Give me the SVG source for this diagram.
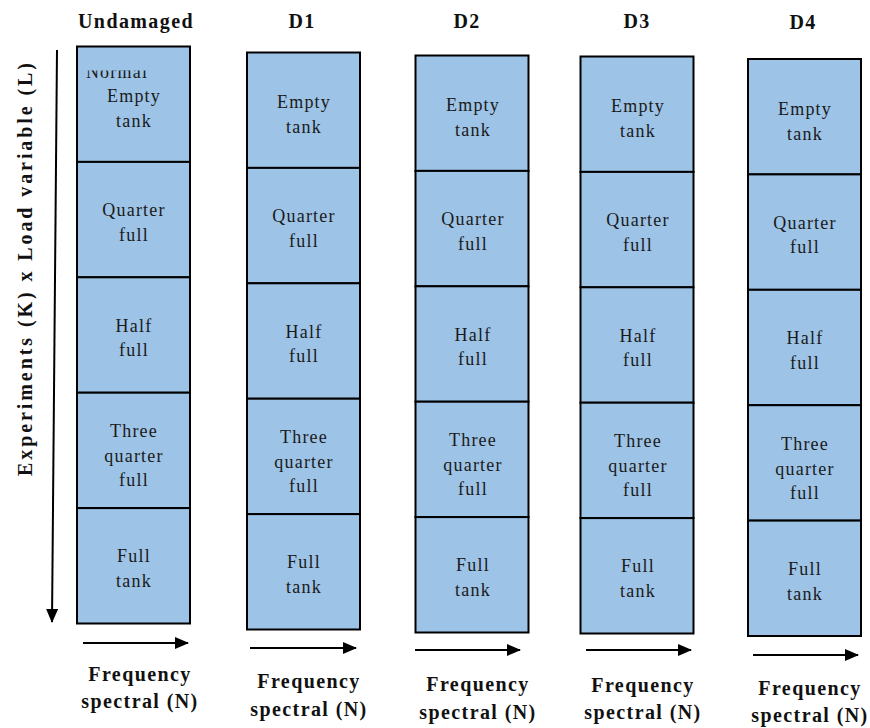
<svg xmlns="http://www.w3.org/2000/svg" width="870" height="728" viewBox="0 0 870 728">
<style>
.cell{fill:#9dc3e6;stroke:#000;stroke-width:2}
.t{font-family:'Liberation Serif','Times New Roman',Tinos,'DejaVu Serif',serif;font-size:18px;fill:#1a1a1a;text-anchor:middle;letter-spacing:1.2px}
.h{font-family:'Liberation Serif','Times New Roman',Tinos,'DejaVu Serif',serif;font-size:20px;font-weight:bold;fill:#111;text-anchor:middle;letter-spacing:1.4px}
.ax{stroke:#000;stroke-width:2;fill:none;marker-end:url(#ah)}
</style>
<defs>
<marker id="ah" markerUnits="userSpaceOnUse" markerWidth="15" markerHeight="13" refX="13" refY="6" orient="auto">
<path d="M0,0 L14,6 L0,12 z" fill="#000"/>
</marker>
<clipPath id="nclip"><rect x="80" y="70.5" width="100" height="10"/></clipPath>
</defs>

<g id="headers">
<text class="h" x="136" y="28">Undamaged</text>
<text class="h" x="302" y="28">D1</text>
<text class="h" x="467" y="28">D2</text>
<text class="h" x="637" y="28">D3</text>
<text class="h" x="803" y="28.5">D4</text>
</g>

<g id="col-undamaged">
<g id="u-empty"><rect class="cell" x="77" y="46.5" width="113" height="115.4"/>
<text class="t" x="117" y="78" clip-path="url(#nclip)">Normal</text>
<text class="t" x="134" y="101.5">Empty</text><text class="t" x="134" y="126.5">tank</text></g>
<g id="u-quarter"><rect class="cell" x="77" y="161.9" width="113" height="115.4"/>
<text class="t" x="134" y="216">Quarter</text><text class="t" x="134" y="240.5">full</text></g>
<g id="u-half"><rect class="cell" x="77" y="277.3" width="113" height="115.4"/>
<text class="t" x="134" y="331.5">Half</text><text class="t" x="134" y="356">full</text></g>
<g id="u-three"><rect class="cell" x="77" y="392.7" width="113" height="115.4"/>
<text class="t" x="134" y="437">Three</text><text class="t" x="134" y="462">quarter</text><text class="t" x="134" y="486">full</text></g>
<g id="u-full"><rect class="cell" x="77" y="508.1" width="113" height="115.4"/>
<text class="t" x="134" y="562">Full</text><text class="t" x="134" y="587">tank</text></g>
</g>

<g id="col-d1">
<g id="d1-empty"><rect class="cell" x="247" y="52.5" width="113" height="115.4"/>
<text class="t" x="304" y="108">Empty</text><text class="t" x="304" y="133">tank</text></g>
<g id="d1-quarter"><rect class="cell" x="247" y="167.9" width="113" height="115.4"/>
<text class="t" x="304" y="222">Quarter</text><text class="t" x="304" y="246.5">full</text></g>
<g id="d1-half"><rect class="cell" x="247" y="283.3" width="113" height="115.4"/>
<text class="t" x="304" y="337.5">Half</text><text class="t" x="304" y="362">full</text></g>
<g id="d1-three"><rect class="cell" x="247" y="398.7" width="113" height="115.4"/>
<text class="t" x="304" y="443">Three</text><text class="t" x="304" y="468">quarter</text><text class="t" x="304" y="492">full</text></g>
<g id="d1-full"><rect class="cell" x="247" y="514.1" width="113" height="115.4"/>
<text class="t" x="304" y="568">Full</text><text class="t" x="304" y="593">tank</text></g>
</g>

<g id="col-d2">
<g id="d2-empty"><rect class="cell" x="415.5" y="55.5" width="113" height="115.4"/>
<text class="t" x="473" y="111">Empty</text><text class="t" x="473" y="136">tank</text></g>
<g id="d2-quarter"><rect class="cell" x="415.5" y="170.9" width="113" height="115.4"/>
<text class="t" x="473" y="225">Quarter</text><text class="t" x="473" y="249.5">full</text></g>
<g id="d2-half"><rect class="cell" x="415.5" y="286.3" width="113" height="115.4"/>
<text class="t" x="473" y="340.5">Half</text><text class="t" x="473" y="365">full</text></g>
<g id="d2-three"><rect class="cell" x="415.5" y="401.7" width="113" height="115.4"/>
<text class="t" x="473" y="446">Three</text><text class="t" x="473" y="471">quarter</text><text class="t" x="473" y="495">full</text></g>
<g id="d2-full"><rect class="cell" x="415.5" y="517.1" width="113" height="115.4"/>
<text class="t" x="473" y="571">Full</text><text class="t" x="473" y="596">tank</text></g>
</g>

<g id="col-d3">
<g id="d3-empty"><rect class="cell" x="580.5" y="56.5" width="113" height="115.4"/>
<text class="t" x="638" y="112">Empty</text><text class="t" x="638" y="137">tank</text></g>
<g id="d3-quarter"><rect class="cell" x="580.5" y="171.9" width="113" height="115.4"/>
<text class="t" x="638" y="226">Quarter</text><text class="t" x="638" y="250.5">full</text></g>
<g id="d3-half"><rect class="cell" x="580.5" y="287.3" width="113" height="115.4"/>
<text class="t" x="638" y="341.5">Half</text><text class="t" x="638" y="366">full</text></g>
<g id="d3-three"><rect class="cell" x="580.5" y="402.7" width="113" height="115.4"/>
<text class="t" x="638" y="447">Three</text><text class="t" x="638" y="472">quarter</text><text class="t" x="638" y="496">full</text></g>
<g id="d3-full"><rect class="cell" x="580.5" y="518.1" width="113" height="115.4"/>
<text class="t" x="638" y="572">Full</text><text class="t" x="638" y="597">tank</text></g>
</g>

<g id="col-d4">
<g id="d4-empty"><rect class="cell" x="748" y="59" width="113" height="115.4"/>
<text class="t" x="805" y="114.5">Empty</text><text class="t" x="805" y="139.5">tank</text></g>
<g id="d4-quarter"><rect class="cell" x="748" y="174.4" width="113" height="115.4"/>
<text class="t" x="805" y="228.5">Quarter</text><text class="t" x="805" y="253">full</text></g>
<g id="d4-half"><rect class="cell" x="748" y="289.8" width="113" height="115.4"/>
<text class="t" x="805" y="344">Half</text><text class="t" x="805" y="368.5">full</text></g>
<g id="d4-three"><rect class="cell" x="748" y="405.2" width="113" height="115.4"/>
<text class="t" x="805" y="449.5">Three</text><text class="t" x="805" y="474.5">quarter</text><text class="t" x="805" y="498.5">full</text></g>
<g id="d4-full"><rect class="cell" x="748" y="520.6" width="113" height="115.4"/>
<text class="t" x="805" y="574.5">Full</text><text class="t" x="805" y="599.5">tank</text></g>
</g>

<g id="connectors">
<line class="ax" x1="57" y1="50" x2="52" y2="622"/>
<line class="ax" x1="83" y1="643" x2="188" y2="643"/>
<line class="ax" x1="250" y1="648" x2="356" y2="648"/>
<line class="ax" x1="415" y1="650" x2="520" y2="650"/>
<line class="ax" x1="586" y1="650" x2="691" y2="650"/>
<line class="ax" x1="753" y1="655" x2="858" y2="655"/>
</g>

<g id="axis-labels">
<text class="h" font-size="19" transform="translate(31.5,269.5) rotate(-90)" textLength="413" lengthAdjust="spacing" style="letter-spacing:0">Experiments (K) x Load variable (L)</text>
<text class="h" x="140" y="681">Frequency</text>
<text class="h" x="140" y="708">spectral (N)</text>
<text class="h" x="309" y="688">Frequency</text>
<text class="h" x="309" y="716">spectral (N)</text>
<text class="h" x="478" y="691">Frequency</text>
<text class="h" x="478" y="719">spectral (N)</text>
<text class="h" x="643" y="692">Frequency</text>
<text class="h" x="643" y="719">spectral (N)</text>
<text class="h" x="810" y="695">Frequency</text>
<text class="h" x="810" y="722">spectral (N)</text>
</g>
</svg>
